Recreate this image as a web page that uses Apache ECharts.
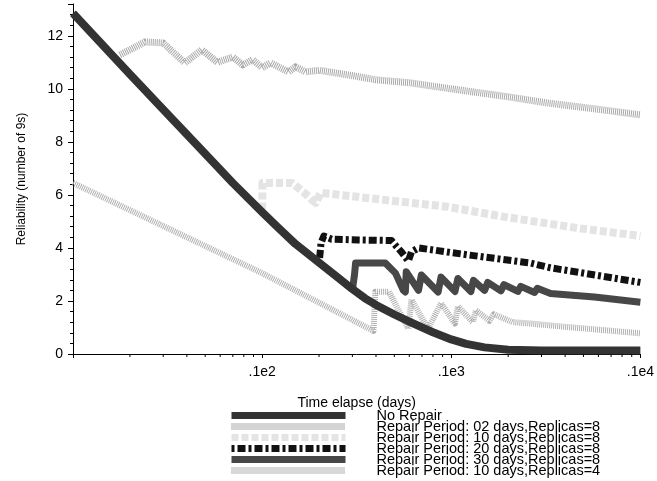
<!DOCTYPE html>
<html>
<head>
<meta charset="utf-8">
<script src="https://cdn.jsdelivr.net/npm/echarts@6/dist/echarts.min.js"></script>
<style>
html, body { margin: 0; padding: 0; background: #fff; }
#main { width: 657px; height: 481px; }
</style>
</head>
<body>
<div id="main"></div>
<script>
// time elapsed (days) / reliability (number of 9s)
var noRepairT = [1, 2, 3, 5, 7, 10, 12, 15, 20, 25, 30, 35, 40, 50, 60, 70, 80, 100, 120, 150, 200, 300, 500, 1000];
var noRepairV = [12.85, 10.55, 9.22, 7.55, 6.45, 5.35, 4.8, 4.15, 3.45, 2.9, 2.45, 2.1, 1.85, 1.49, 1.22, 1.0, 0.82, 0.55, 0.38, 0.25, 0.16, 0.13, 0.13, 0.13];

var rep02T = [1.77, 2.1, 2.4, 3.0, 3.9, 4.8, 5.8, 7.0, 7.9, 8.9, 10, 11.1, 13.8, 15, 17, 20, 30, 40, 60, 100, 200, 320, 500, 1000];
var rep02V = [11.28, 11.55, 11.77, 11.73, 10.98, 11.47, 11.0, 11.2, 10.9, 11.1, 10.8, 10.98, 10.64, 10.83, 10.64, 10.7, 10.5, 10.34, 10.23, 10.0, 9.7, 9.47, 9.3, 9.02];

var rep10T = [10, 10.05, 11, 14.4, 16.6, 18.1, 19.2, 20.4, 50, 96, 192, 466, 1000];
var rep10V = [5.45, 6.45, 6.45, 6.45, 6.1, 5.85, 5.7, 6.08, 5.77, 5.55, 5.17, 4.75, 4.45];

var rep20T = [20, 20.5, 21.2, 23.3, 32.3, 48.3, 50.7, 54.5, 59.3, 61.6, 67.1, 122, 263, 335, 1000];
var rep20V = [3.4, 4.2, 4.45, 4.33, 4.3, 4.28, 4.1, 3.85, 3.5, 3.85, 4.0, 3.74, 3.43, 3.25, 2.7];

var rep30T = [30, 30.8, 31.2, 44.8, 50.7, 55.8, 57.2, 57.8, 67.1, 69.5, 85.2, 88.3, 104.6, 108.4, 127, 131, 150, 156, 183, 190, 225, 233, 276, 285, 335, 572, 1000];
var rep30V = [2.4, 3.0, 3.43, 3.43, 3.05, 2.4, 2.34, 3.1, 2.4, 2.98, 2.34, 2.9, 2.36, 2.85, 2.36, 2.78, 2.4, 2.7, 2.38, 2.62, 2.36, 2.55, 2.32, 2.48, 2.28, 2.15, 1.95];

var rep10r4T = [1, 3.16, 10, 38.8, 39.7, 46.8, 59.3, 61.6, 75.4, 88.3, 104.6, 108.4, 130, 135, 159, 168, 211, 263, 366, 594, 1000];
var rep10r4V = [6.45, 4.75, 3.05, 0.87, 2.35, 2.35, 0.95, 2.05, 0.95, 1.92, 1.15, 1.8, 1.2, 1.65, 1.25, 1.5, 1.2, 1.15, 1.05, 0.92, 0.78];

var seriesNames = [
  'No Repair',
  'Repair Period: 02 days,Replicas=8',
  'Repair Period: 10 days,Replicas=8',
  'Repair Period: 20 days,Replicas=8',
  'Repair Period: 30 days,Replicas=8',
  'Repair Period: 10 days,Replicas=4'
];

var xTickValues = [10, 100, 1000];
var xTickLabels = ['.1e2', '.1e3', '.1e4'];
var xMinorTicks = [2, 3, 4, 5, 6, 7, 8, 9, 20, 30, 40, 50, 60, 70, 80, 90, 200, 300, 400, 500, 600, 700, 800, 900];

function pairs(t, v) {
  return t.map(function (x, i) { return [x, v[i]]; });
}

function line(name, t, v, color, width, dash, z) {
  return {
    name: name,
    type: 'line',
    data: pairs(t, v),
    symbol: 'none',
    showSymbol: false,
    z: z,
    color: color,
    lineStyle: { color: color, width: width, type: dash, cap: 'butt', join: 'round' }
  };
}

var font = 'Liberation Sans, Arial, sans-serif';

var myChart = echarts.init(document.getElementById('main'));
myChart.setOption({
  animation: false,
  backgroundColor: '#fff',
  grid: { left: 73, right: 14, top: 4, bottom: 127 },
  xAxis: {
    type: 'log',
    logBase: 10,
    min: 1,
    max: 1000,
    name: 'Time elapse (days)',
    nameLocation: 'middle',
    nameGap: 42,
    nameTextStyle: { color: '#000', fontSize: 14, fontFamily: font },
    axisLine: { lineStyle: { color: '#000', width: 1 } },
    axisTick: { length: 4, lineStyle: { color: '#000' } },
    axisLabel: {
      color: '#000', fontSize: 14, fontFamily: font, margin: 11,
      formatter: function (v) {
        var i = xTickValues.indexOf(Math.round(v));
        return i >= 0 ? xTickLabels[i] : '';
      }
    },
    splitLine: { show: false }
  },
  yAxis: {
    type: 'value',
    min: 0,
    max: 13.2,
    interval: 2,
    name: 'Reliability (number of 9s)',
    nameLocation: 'middle',
    nameRotate: 90,
    nameGap: 45,
    nameTextStyle: { color: '#000', fontSize: 12, fontFamily: font },
    axisLine: { show: true, lineStyle: { color: '#000', width: 1 } },
    axisTick: { show: true, length: 5, lineStyle: { color: '#000' } },
    minorTick: { show: true, splitNumber: 5, length: 3, lineStyle: { color: '#000' } },
    axisLabel: { color: '#000', fontSize: 14, fontFamily: font, margin: 10, showMaxLabel: false },
    splitLine: { show: false }
  },
  legend: {
    orient: 'vertical',
    left: 228,
    top: 408,
    height: 120,
    padding: 0,
    itemGap: -4,
    itemWidth: 114,
    itemHeight: 7,
    data: seriesNames,
    lineStyle: { width: 7 },
    itemStyle: { color: 'rgba(0,0,0,0)', borderColor: 'rgba(0,0,0,0)', borderWidth: 0 },
    textStyle: { color: '#000', fontSize: 14.5, fontFamily: font, lineHeight: 11, padding: [0, 0, 0, 26] },
    selectedMode: false
  },
  series: [
    line(seriesNames[0], noRepairT, noRepairV, '#333333', 8, 'solid', 4),
    line(seriesNames[1], rep02T, rep02V, '#a8a8a8', 7, [1, 1], 1),
    line(seriesNames[2], rep10T, rep10V, '#e4e4e4', 8, [7, 3], 1),
    line(seriesNames[3], rep20T, rep20V, '#111111', 7, [3, 3, 8, 3], 3),
    line(seriesNames[4], rep30T, rep30V, '#474747', 7, 'solid', 2),
    line(seriesNames[5], rep10r4T, rep10r4V, '#b0b0b0', 6, [1, 1], 1),
    {
      type: 'custom',
      silent: true,
      z: 5,
      data: xMinorTicks.map(function (v) { return [v, 0]; }),
      renderItem: function (params, api) {
        var p = api.coord([api.value(0), 0]);
        return {
          type: 'line',
          shape: { x1: p[0], y1: p[1], x2: p[0], y2: p[1] + 3 },
          style: { stroke: '#000', lineWidth: 1 }
        };
      }
    }
  ]
});
</script>
</body>
</html>
